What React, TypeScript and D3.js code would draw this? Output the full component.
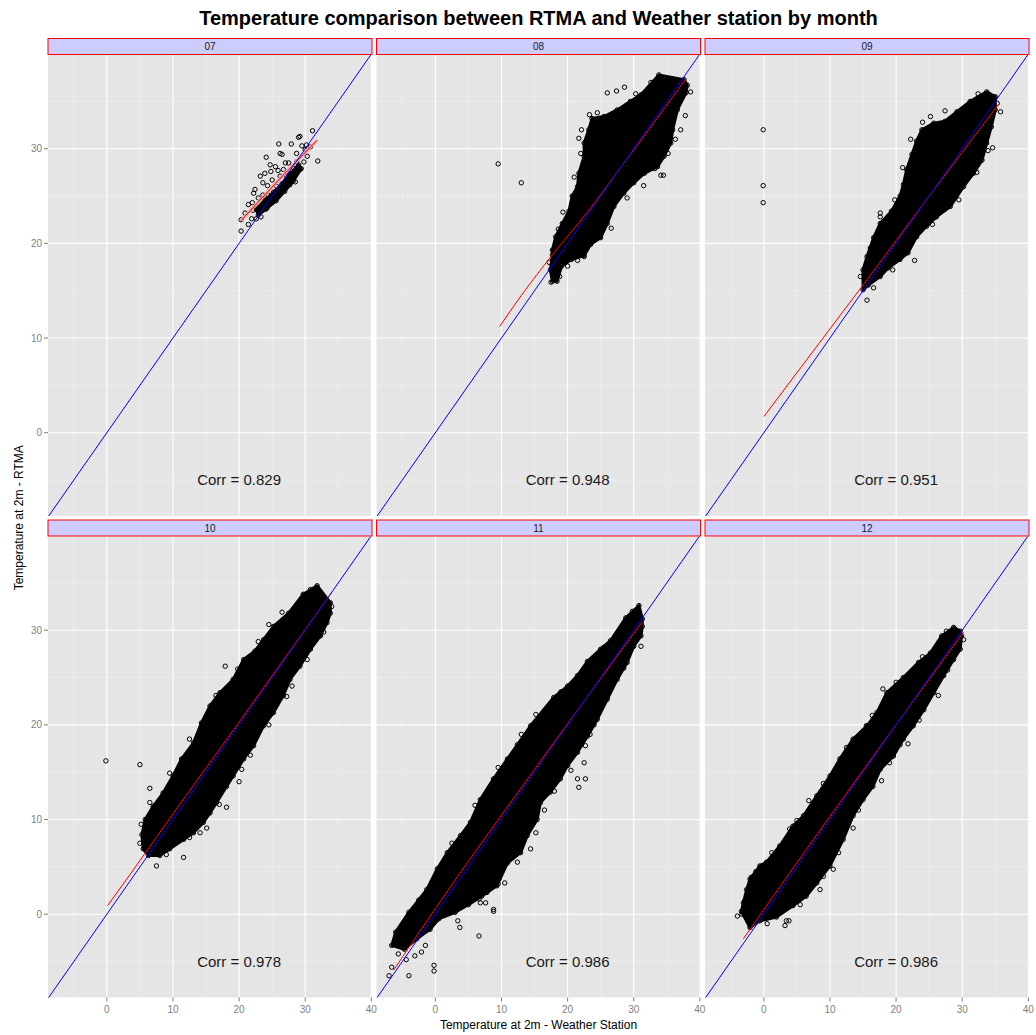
import React from "react";
import * as d3 from "d3";

type P = [number, number];

const MONTHS = ["07", "08", "09", "10", "11", "12"];
const CORRS = ["0.829", "0.948", "0.951", "0.978", "0.986", "0.986"];
const X_TICKS = [0, 10, 20, 30, 40];
const Y_TICKS = [0, 10, 20, 30];
const X_MINOR = [-5, 5, 15, 25, 35];
const Y_MINOR = [-5, 5, 15, 25, 35];

// dense part of each cloud (outline)
const core07: P[] = [[22.6, 23.6], [23.9, 24.6], [25.2, 25.4], [26.5, 26.3], [27.7, 27.3], [29.0, 28.3], [29.4, 27.9], [28.2, 26.6], [26.9, 25.5], [25.6, 24.5], [24.2, 23.7], [22.9, 23.0]];
const core08: P[] = [[33.8, 37.8], [31.1, 35.7], [29.5, 35.0], [27.5, 34.1], [25.5, 33.4], [23.7, 33.2], [23.2, 32.0], [22.5, 30.6], [22.5, 29.2], [21.7, 27.4], [21.5, 26.0], [20.7, 25.0], [20.2, 23.4], [19.2, 22.1], [18.2, 20.7], [17.7, 19.3], [17.7, 18.8], [17.4, 17.2], [17.7, 16.0], [18.4, 16.0], [19.1, 17.6], [20.6, 18.3], [22.5, 18.7], [23.5, 19.9], [25.0, 20.6], [26.0, 22.1], [27.0, 23.9], [28.5, 25.3], [30.0, 26.4], [31.6, 27.4], [33.6, 28.1], [34.6, 29.2], [35.6, 30.6], [35.9, 32.0], [36.6, 34.1], [37.9, 35.9], [38.1, 36.7], [37.6, 37.3]];
const core09: P[] = [[33.7, 36.0], [31.2, 35.0], [29.2, 33.9], [27.4, 32.9], [25.7, 32.7], [23.9, 32.0], [23.1, 30.8], [22.4, 29.4], [21.6, 27.8], [21.1, 26.2], [20.6, 25.0], [19.3, 23.4], [17.6, 22.1], [16.6, 20.6], [15.6, 18.6], [15.0, 17.2], [15.0, 15.1], [15.8, 15.6], [17.6, 16.5], [18.8, 17.4], [20.6, 18.3], [21.8, 19.0], [23.1, 20.7], [24.6, 21.8], [26.1, 22.8], [28.2, 23.9], [30.2, 26.0], [31.7, 27.4], [33.0, 28.8], [33.7, 30.6], [34.4, 32.3], [35.0, 34.1], [35.0, 35.5]];
const core10: P[] = [[31.8, 34.7], [29.7, 33.8], [27.5, 31.8], [25.2, 30.4], [23.7, 29.0], [22.4, 27.8], [20.7, 26.9], [19.1, 24.8], [17.1, 23.4], [15.6, 22.0], [14.3, 20.2], [13.1, 18.1], [11.3, 16.4], [10.0, 14.6], [8.5, 12.8], [7.0, 11.4], [5.8, 10.0], [5.3, 8.4], [5.5, 6.9], [6.3, 6.2], [8.0, 6.2], [9.5, 6.9], [11.6, 7.9], [13.1, 8.6], [14.6, 9.7], [15.6, 10.7], [16.6, 11.8], [18.1, 13.5], [19.1, 14.6], [20.7, 16.4], [22.2, 17.8], [23.7, 19.9], [25.2, 21.3], [26.7, 23.1], [27.7, 24.8], [29.2, 26.2], [30.8, 28.0], [32.3, 29.4], [33.3, 30.8], [33.8, 31.8], [33.8, 32.9]];
const core11: P[] = [[30.8, 32.6], [28.8, 31.3], [26.5, 28.9], [25.0, 28.0], [23.0, 26.7], [21.5, 25.2], [20.0, 24.1], [17.9, 22.9], [14.4, 19.9], [12.4, 17.9], [10.9, 16.4], [8.8, 14.3], [6.8, 12.1], [5.3, 9.7], [3.8, 8.3], [1.8, 6.5], [0.3, 4.8], [-1.3, 2.6], [-4.0, 0.2], [-6.0, -1.9], [-6.6, -3.3], [-4.7, -3.7], [-2.8, -2.6], [-0.8, -1.6], [0.5, -0.5], [3.0, 0.2], [5.0, 1.0], [7.0, 1.9], [9.3, 3.0], [10.9, 5.4], [12.9, 6.5], [13.9, 8.3], [15.4, 10.0], [15.9, 11.8], [17.4, 12.9], [18.9, 14.3], [20.0, 15.7], [21.5, 17.1], [23.0, 18.8], [24.5, 20.6], [26.0, 22.7], [27.5, 24.8], [29.0, 26.6], [30.0, 28.3], [31.1, 29.4], [31.3, 30.4], [31.3, 31.2]];
const core12: P[] = [[28.7, 30.3], [26.9, 29.4], [25.2, 27.6], [23.4, 26.6], [21.1, 25.0], [18.6, 23.4], [17.1, 21.3], [15.6, 19.9], [13.5, 18.5], [11.5, 16.4], [10.0, 14.6], [8.0, 12.5], [6.0, 10.4], [4.4, 9.3], [2.4, 7.2], [0.4, 5.5], [-0.6, 5.1], [-2.1, 3.7], [-2.6, 2.6], [-3.1, 1.2], [-3.4, 0.3], [-2.1, -1.4], [-0.6, -0.7], [1.9, -0.3], [4.4, 0.9], [6.4, 1.9], [8.0, 3.3], [10.0, 5.1], [12.0, 7.9], [13.5, 10.4], [15.0, 12.1], [16.5, 13.5], [17.6, 15.3], [19.6, 16.7], [21.1, 18.5], [22.6, 19.9], [24.2, 21.6], [25.7, 23.4], [27.2, 25.2], [28.7, 26.9], [29.7, 28.0], [29.9, 29.4], [29.7, 29.9]];

// loose points around the clouds
const pts07: P[] = [[31.1, 31.9], [29.2, 31.3], [29.0, 31.2], [26.0, 30.5], [27.9, 30.5], [29.5, 30.3], [30.2, 30.4], [31.9, 28.7], [24.1, 29.1], [26.2, 29.5], [26.5, 29.4], [24.7, 28.3], [25.5, 28.1], [27.0, 28.5], [27.5, 28.5], [28.7, 28.6], [29.2, 27.8], [30.3, 29.2], [23.9, 27.4], [23.2, 27.1], [23.6, 26.4], [22.4, 25.7], [22.2, 25.3], [22.9, 24.8], [21.4, 24.1], [22.1, 23.5], [20.9, 23.2], [21.9, 22.6], [20.3, 22.5], [20.3, 21.3], [27.7, 26.2], [27.2, 27.1], [28.5, 26.5], [25.7, 26.0], [24.7, 24.6], [24.4, 25.1], [23.6, 25.1], [26.2, 27.1], [26.7, 27.8], [25.0, 26.7], [27.7, 27.4], [30.0, 29.9], [30.8, 30.2], [28.7, 29.5], [23.0, 23.8], [22.6, 22.6], [21.4, 22.0], [24.0, 23.6], [24.8, 27.6], [25.9, 27.7], [26.1, 25.2], [24.3, 26.1], [28.3, 27.9], [29.8, 28.6], [22.0, 24.3], [23.3, 22.8]];
const pts08: P[] = [[9.5, 28.4], [13.0, 26.4], [26.0, 35.9], [27.4, 36.1], [28.6, 36.5], [34.5, 27.2], [31.5, 26.1], [37.1, 32.0], [22.1, 32.0], [21.7, 31.1], [19.3, 23.3], [22.5, 18.6], [24.7, 20.7], [34.1, 27.2], [17.5, 15.9], [38.6, 36.0], [37.8, 33.5], [24.5, 33.8], [23.3, 33.6], [22.0, 29.5], [21.0, 27.0], [18.6, 21.5], [17.2, 18.0], [18.8, 16.5], [20.0, 17.6], [21.5, 18.2], [26.6, 21.6], [29.0, 24.8], [33.2, 27.9], [35.2, 29.5], [36.3, 31.0], [30.3, 35.8], [32.6, 37.0]];
const pts09: P[] = [[-0.1, 32.0], [-0.1, 26.1], [-0.1, 24.3], [27.4, 34.0], [34.6, 30.1], [35.8, 33.9], [22.8, 18.2], [15.6, 14.0], [17.6, 22.8], [16.1, 19.5], [17.6, 23.2], [25.2, 33.4], [24.0, 32.8], [22.2, 31.0], [21.0, 28.0], [19.8, 24.6], [14.6, 16.5], [16.6, 15.3], [19.5, 17.2], [25.5, 22.0], [29.5, 24.6], [32.2, 27.5], [33.9, 29.8], [35.3, 34.8], [32.4, 35.8]];
const pts10: P[] = [[-0.15, 16.2], [5.0, 15.8], [6.5, 13.3], [17.9, 26.2], [20.0, 14.0], [18.1, 11.3], [15.1, 9.1], [11.6, 6.0], [7.5, 5.1], [20.4, 15.3], [21.4, 26.9], [14.1, 8.6], [28.0, 24.1], [34.0, 32.5], [24.5, 30.6], [26.5, 31.9], [22.9, 28.8], [19.8, 25.9], [16.5, 23.1], [12.5, 18.5], [9.5, 14.9], [6.5, 11.8], [5.2, 9.5], [5.0, 7.5], [9.0, 6.3], [12.5, 8.1], [17.0, 11.6], [21.7, 16.8], [24.5, 20.0], [27.2, 23.0], [30.3, 26.9], [32.8, 29.8], [30.8, 34.3]];
const pts11: P[] = [[22.7, 17.8], [22.5, 16.0], [21.5, 14.3], [22.7, 14.3], [21.7, 13.4], [15.2, 21.1], [15.2, 8.6], [14.4, 6.9], [12.4, 5.5], [9.6, 3.7], [7.8, 2.3], [6.8, 1.2], [31.1, 28.3], [-7.0, -6.5], [-6.6, -5.6], [-4.0, -6.5], [-0.2, -5.4], [-0.2, -6.0], [6.6, -2.3], [3.7, -1.4], [3.4, -0.7], [-6.0, -2.8], [-5.6, -4.2], [-4.4, -4.8], [-2.1, -4.0], [-1.5, -3.3], [-3.1, -4.4], [7.6, 1.2], [8.8, 0.3], [9.5, 3.2], [10.5, 3.3], [6.6, 1.6], [5.0, 1.9], [8.8, 0.5], [20.5, 15.2], [23.4, 19.0], [24.0, 20.0], [18.0, 13.0], [16.5, 11.0], [25.5, 28.2], [19.0, 23.5], [13.0, 19.0], [9.5, 15.5], [6.0, 11.5], [2.5, 7.5], [-2.5, 1.5], [29.8, 32.0], [26.8, 24.5], [28.5, 26.0]];
const pts12: P[] = [[18.0, 23.8], [6.8, 12.0], [3.9, 9.0], [-1.9, 3.9], [3.4, -0.7], [3.2, -1.2], [10.5, 4.75], [8.5, 2.6], [16.5, 14.1], [17.8, 14.1], [20.6, 17.9], [21.8, 18.0], [26.4, 23.1], [15.5, 19.9], [7.0, 10.4], [13.5, 9.1], [-3.3, 0], [-1.7, 1.1], [3.8, -0.7], [-2.9, 1.4], [-4.0, -0.2], [0.5, -1.0], [5.5, 1.0], [9.0, 4.0], [11.3, 6.5], [14.3, 11.0], [19.0, 16.0], [23.5, 20.5], [27.8, 25.8], [30.2, 29.0], [27.6, 29.9], [24.0, 27.2], [20.0, 24.5], [16.4, 21.0], [12.5, 17.6], [9.0, 13.8], [5.0, 9.9], [1.2, 6.5], [-1.2, 4.5]];

// smoothed fit (red)
const fit07: P[] = [[20.3, 22.4], [26.0, 26.7], [31.8, 30.9]];
const fit08: P[] = [[9.7, 11.2], [13.0, 14.5], [17.7, 18.8], [23.0, 23.3], [28.0, 28.0], [33.0, 32.7], [37.9, 37.4]];
const fit09: P[] = [[0, 1.7], [11, 11.9], [15, 15.6], [25, 25.0], [35.5, 34.7]];
const fit10: P[] = [[0.1, 0.9], [3.0, 3.7], [10, 10.6], [20, 20.3], [34, 34.0]];
const fit11: P[] = [[-6.3, -5.9], [0, 0.6], [15, 15.3], [31.3, 30.9]];
const fit12: P[] = [[-3.1, -2.6], [0, 0.5], [15, 15.2], [30.2, 29.8]];

const CORES = [core07, core08, core09, core10, core11, core12];
const POINTS = [pts07, pts08, pts09, pts10, pts11, pts12];
const FITS = [fit07, fit08, fit09, fit10, fit11, fit12];

const W = 1036;
const H = 1035;
const COL_X = [48, 376.5, 705];
const PW = 324;
const STRIP_H = 17;
const ROW_Y = [38, 519.5]; // strip tops
const PH = 461;
const FONT = "'Liberation Sans', Arial, Helvetica, sans-serif";
const XD: [number, number] = [-8.9, 40.1];
const YD: [number, number] = [-8.8, 39.9];

function Panel({ i }: { i: number }) {
  const col = i % 3;
  const row = Math.floor(i / 3);
  const left = COL_X[col];
  const stripTop = ROW_Y[row];
  const top = stripTop + STRIP_H;
  const x = d3.scaleLinear().domain(XD).range([left, left + PW]);
  const y = d3.scaleLinear().domain(YD).range([top + PH, top]);
  const line = d3.line<P>().x((d) => x(d[0])).y((d) => y(d[1]));
  const curve = d3.line<P>().x((d) => x(d[0])).y((d) => y(d[1])).curve(d3.curveMonotoneX);
  const clipId = `clip${i}`;
  return (
    <g>
      <clipPath id={clipId}>
        <rect x={left} y={top} width={PW} height={PH} />
      </clipPath>
      <rect x={left} y={top} width={PW} height={PH} fill="#E5E5E5" />
      {X_MINOR.map((t) => (
        <line key={"xm" + t} x1={x(t)} x2={x(t)} y1={top} y2={top + PH} stroke="#F2F2F2" strokeWidth={0.6} />
      ))}
      {Y_MINOR.map((t) => (
        <line key={"ym" + t} x1={left} x2={left + PW} y1={y(t)} y2={y(t)} stroke="#F2F2F2" strokeWidth={0.6} />
      ))}
      {X_TICKS.map((t) => (
        <line key={"xg" + t} x1={x(t)} x2={x(t)} y1={top} y2={top + PH} stroke="#FFFFFF" strokeWidth={1.1} />
      ))}
      {Y_TICKS.map((t) => (
        <line key={"yg" + t} x1={left} x2={left + PW} y1={y(t)} y2={y(t)} stroke="#FFFFFF" strokeWidth={1.1} />
      ))}
      <g clipPath={`url(#${clipId})`}>
        <path d={line(CORES[i]) + "Z"} fill="#000" stroke="#000" strokeWidth={3} strokeLinejoin="round" />
        {CORES[i].map((d, k) => (
          <circle key={"c" + k} cx={x(d[0])} cy={y(d[1])} r={2.2} fill="none" stroke="#000" strokeWidth={1} />
        ))}
        {POINTS[i].map((d, k) => (
          <circle key={"p" + k} cx={x(d[0])} cy={y(d[1])} r={2.2} fill="none" stroke="#000" strokeWidth={1} />
        ))}
        {i === 0 && (
          <path d={curve(FITS[i]) || ""} fill="none" stroke="#F4A6A6" strokeOpacity={0.8} strokeWidth={3.5} />
        )}
        <path d={curve(FITS[i]) || ""} fill="none" stroke="#FF0000" strokeWidth={1} />
        <line x1={x(XD[0])} y1={y(XD[0])} x2={x(XD[1])} y2={y(XD[1])} stroke="#0000FF" strokeWidth={1} />
      </g>
      <text x={x(20)} y={y(-5)} dy="0.35em" textAnchor="middle" fontFamily={FONT} fontSize={15} fill="#1A1A1A">
        {`Corr = ${CORRS[i]}`}
      </text>
      <rect x={left} y={stripTop + 0.5} width={PW} height={STRIP_H - 1} fill="#CCCCFF" stroke="#FF0000" strokeWidth={1} />
      <text x={left + PW / 2} y={stripTop + STRIP_H / 2} dy="0.35em" textAnchor="middle" fontFamily={FONT} fontSize={10} fill="#1A1A1A">
        {MONTHS[i]}
      </text>
      {col === 0 &&
        Y_TICKS.map((t) => (
          <g key={"yt" + t}>
            <line x1={left - 4} x2={left} y1={y(t)} y2={y(t)} stroke="#7F7F7F" strokeWidth={1} />
            <text x={left - 6} y={y(t)} dy="0.35em" textAnchor="end" fontFamily={FONT} fontSize={10} fill="#7F7F7F">
              {t}
            </text>
          </g>
        ))}
      {row === 1 &&
        X_TICKS.map((t) => (
          <g key={"xt" + t}>
            <line x1={x(t)} x2={x(t)} y1={top + PH} y2={top + PH + 4} stroke="#7F7F7F" strokeWidth={1} />
            <text x={x(t)} y={top + PH + 12} dy="0.35em" textAnchor="middle" fontFamily={FONT} fontSize={10} fill="#7F7F7F">
              {t}
            </text>
          </g>
        ))}
    </g>
  );
}

export default function App() {
  const midX = (COL_X[0] + COL_X[2] + PW) / 2;
  const midY = (ROW_Y[0] + ROW_Y[1] + STRIP_H + PH) / 2;
  return (
    <svg width={W} height={H} style={{ position: "absolute", left: 0, top: 0, background: "#FFFFFF" }}>
      <rect width={W} height={H} fill="#FFFFFF" />
      <text x={midX} y={18} dy="0.35em" textAnchor="middle" fontFamily={FONT} fontSize={20} fontWeight="bold" fill="#000">
        Temperature comparison between RTMA and Weather station by month
      </text>
      {MONTHS.map((m, i) => (
        <Panel key={m} i={i} />
      ))}
      <text x={midX} y={1025} dy="0.35em" textAnchor="middle" fontFamily={FONT} fontSize={12} fill="#000">
        Temperature at 2m - Weather Station
      </text>
      <text
        transform={`translate(19,${midY}) rotate(-90)`}
        dy="0.35em"
        textAnchor="middle"
        fontFamily={FONT}
        fontSize={12}
        fill="#000"
      >
        Temperature at 2m - RTMA
      </text>
    </svg>
  );
}
